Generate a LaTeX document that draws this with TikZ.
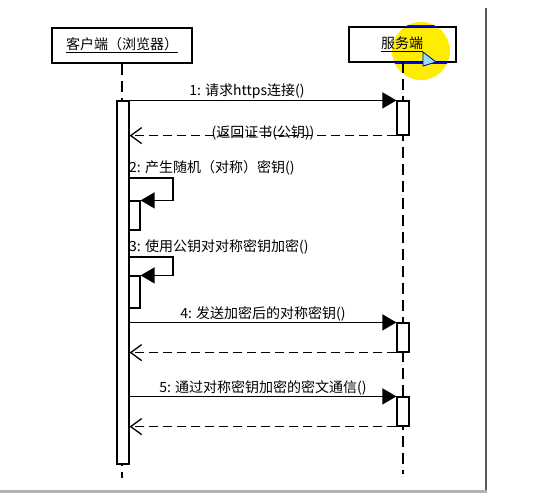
\documentclass[tikz,border=0pt]{standalone}
\usepackage{fontspec}
\setmainfont{Noto Sans CJK SC}
\usetikzlibrary{arrows.meta}
\begin{document}
\begin{tikzpicture}[x=1pt,y=-1pt,
  font=\fontsize{14}{16}\selectfont,
  actor/.style={draw, line width=2pt, minimum height=35pt, inner sep=0pt},
  bar/.style={draw, fill=white, line width=1.2pt, minimum width=12pt, inner sep=0pt},
  nbar/.style={draw, fill=white, line width=1.2pt, minimum width=11pt, inner sep=0pt},
  life/.style={line width=1.3pt, dash pattern=on 11pt off 6pt},
  call/.style={line width=1.3pt, -{Triangle[length=14pt,width=16pt]}},
  ret/.style={line width=1.3pt, dash pattern=on 9pt off 5pt, -{Straight Barb[length=11pt,width=16pt,line width=1.3pt]}},
  lbl/.style={inner sep=1pt}]
\useasboundingbox (0,0) rectangle (554,501);
\fill[white] (0,0) rectangle (554,501);
% window borders
\draw[gray!70!black, line width=2pt] (486,8) -- (486,491);
\draw[gray!60, line width=3pt] (0,491) -- (487,491);
% highlight
\fill[yellow!95!orange] (421,51) circle (29);
% actors
\node[actor, minimum width=140pt] (cl) at (122,45.5) {\underline{客户端（浏览器）}};
\node[actor, minimum width=107pt] (sv) at (402,44.5) {\underline{服务端}};
\begin{scope}
\clip (421,51) circle (29);
\draw[blue, line width=2pt] (sv.north west) rectangle (sv.south east);
\end{scope}
% lifelines
\coordinate (clend) at (122,478);
\coordinate (svtop) at (403,62);
\coordinate (svend) at (403,474);
\draw[life] (cl.south) -- (clend);
\draw[life] (svtop) -- (svend);
% activation bars
\node[bar, minimum height=363pt] (ca) at (123,282.5) {};
\node[bar, minimum height=34pt] (sa1) at (403,118) {};
\node[bar, minimum height=29pt] (sa4) at (403,337.5) {};
\node[bar, minimum height=29pt] (sa5) at (403,411.5) {};
\node[nbar, minimum height=29pt] (n2) at (134.5,215.5) {};
\node[nbar, minimum height=32pt] (n3) at (134.5,292) {};
% message 1
\draw[call] (ca.north east) -- node[lbl, above, xshift=-16pt] {1: 请求https连接()} (sa1.north west);
\node[lbl] (r1) at (263,133) {(返回证书(公钥))};
\draw[ret] (sa1.south west) -- (ca.east |- sa1.south west);
% self call 2
\coordinate (s2) at (129,178);
\node[lbl, anchor=south west] (l2) at (128,176) {2: 产生随机（对称）密钥()};
\draw[call] (s2) -- ++(44,0) |- (n2.north east);
% self call 3
\coordinate (s3) at (129,257);
\node[lbl, anchor=south west] (l3) at (128,255) {3: 使用公钥对对称密钥加密()};
\draw[call] (s3) -- ++(44,0) |- (n3.north east);
% message 4
\draw[call] (ca.east |- sa4.north west) -- node[lbl, above] {4: 发送加密后的对称密钥()} (sa4.north west);
\draw[ret] (sa4.south west) -- (ca.east |- sa4.south west);
% message 5
\draw[call] (ca.east |- sa5.north west) -- node[lbl, above] {5: 通过对称密钥加密的密文通信()} (sa5.north west);
\draw[ret] (sa5.south west) -- (ca.east |- sa5.south west);
% cursor
\filldraw[fill=cyan!40, draw=blue!70!black, line width=0.8pt] (423,52) -- (423,66) -- (436,62) -- cycle;
\end{tikzpicture}
\end{document}
